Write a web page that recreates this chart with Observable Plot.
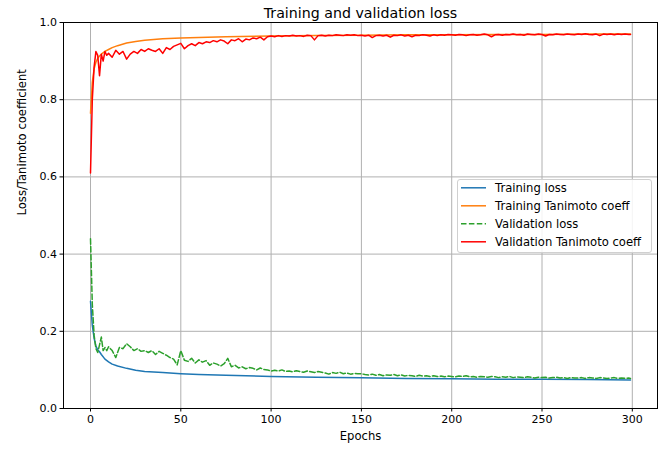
<!DOCTYPE html>
<html><head><meta charset="utf-8">
<script src="https://cdn.jsdelivr.net/npm/d3@7"></script>
<script src="https://cdn.jsdelivr.net/npm/@observablehq/plot@0.6"></script>
<style>
html,body{margin:0;padding:0;background:#fff;}
#wrap{position:relative;width:672px;height:450px;font-family:"DejaVu Sans",sans-serif;}
#legend{position:absolute;left:457px;top:179px;width:195px;height:74px;box-sizing:border-box;border:1px solid #d0d0d0;border-radius:3px;background:rgba(255,255,255,0.85);}
</style>
</head><body>
<div id="wrap"><div id="chart"></div><div id="legend"></div></div>
<script>
const seriesNames = ["Training loss","Training Tanimoto coeff","Validation loss","Validation Tanimoto coeff"];
const seriesColors = ["#1f77b4","#ff7f0e","#2ca02c","#ff0000"];
const xTicks = [0,50,100,150,200,250,300];
const yTicks = [0,0.2,0.4,0.6,0.8,1.0];

// training curves (smooth) read at these epochs
const trainEpochs = [0,1,2,3,4,5,6,8,10,12,15,20,25,30,40,50,60,75,100,125,150,175,200,225,250,275,299];
const trainLoss = [0.278,0.215,0.182,0.162,0.152,0.147,0.140,0.128,0.121,0.115,0.110,0.104,0.099,0.096,0.093,0.090,0.088,0.086,0.083,0.081,0.0795,0.078,0.077,0.076,0.0755,0.075,0.074];
const trainTanimoto = [0.765,0.845,0.880,0.897,0.907,0.913,0.918,0.925,0.930,0.935,0.940,0.947,0.951,0.954,0.958,0.960,0.961,0.963,0.965,0.966,0.967,0.968,0.968,0.969,0.969,0.970,0.970];

// validation curves (noisy): epochs 0..9, then every 2nd epoch to 298, then 299
const valEpochs = d3.range(0,10).concat(d3.range(10,300,2)).concat([299]);
const valLoss = [
0.440,0.270,0.190,0.155,0.145,0.165,0.185,0.150,0.158,0.150,
0.160,0.150,0.132,0.158,0.155,0.168,0.160,0.150,0.155,0.148,
0.150,0.145,0.150,0.140,0.148,0.143,0.138,0.132,0.128,0.113,
0.150,0.125,0.122,0.130,0.118,0.126,0.120,0.124,0.112,0.118,
0.115,0.110,0.116,0.130,0.108,0.112,0.105,0.108,0.103,0.106,
0.104,0.100,0.105,0.101,0.100,0.097,0.099,0.097,0.100,0.096,
0.097,0.095,0.098,0.096,0.094,0.097,0.095,0.093,0.096,0.094,
0.092,0.089,0.093,0.091,0.094,0.090,0.092,0.089,0.091,0.090,
0.090,0.088,0.087,0.089,0.086,0.088,0.085,0.087,0.086,0.088,
0.085,0.087,0.084,0.086,0.085,0.083,0.086,0.084,0.085,0.083,
0.085,0.083,0.084,0.082,0.084,0.083,0.082,0.084,0.083,0.085,
0.082,0.083,0.081,0.083,0.082,0.081,0.083,0.082,0.080,0.082,
0.081,0.083,0.080,0.082,0.081,0.080,0.082,0.081,0.079,0.081,
0.080,0.081,0.079,0.080,0.081,0.079,0.080,0.078,0.080,0.079,
0.079,0.080,0.078,0.080,0.079,0.078,0.080,0.079,0.078,0.079,
0.080,0.078,0.079,0.078,0.079,
0.078];
const valTanimoto = [
0.610,0.800,0.885,0.925,0.915,0.862,0.918,0.900,0.925,0.915,
0.920,0.910,0.928,0.918,0.925,0.905,0.918,0.925,0.920,0.930,
0.925,0.932,0.928,0.925,0.932,0.920,0.935,0.930,0.938,0.942,
0.946,0.932,0.940,0.945,0.940,0.948,0.945,0.950,0.948,0.953,
0.950,0.955,0.952,0.945,0.955,0.953,0.958,0.950,0.957,0.955,
0.960,0.958,0.962,0.955,0.963,0.965,0.963,0.966,0.964,0.966,
0.965,0.967,0.965,0.966,0.964,0.967,0.966,0.955,0.966,0.967,
0.965,0.967,0.966,0.968,0.967,0.966,0.968,0.967,0.968,0.966,
0.967,0.965,0.967,0.961,0.966,0.967,0.965,0.967,0.962,0.967,
0.966,0.968,0.965,0.967,0.963,0.967,0.966,0.968,0.967,0.965,
0.968,0.966,0.968,0.967,0.969,0.968,0.967,0.969,0.968,0.966,
0.968,0.969,0.967,0.968,0.970,0.968,0.963,0.968,0.969,0.967,
0.969,0.968,0.970,0.968,0.969,0.967,0.970,0.969,0.968,0.970,
0.969,0.965,0.969,0.968,0.970,0.969,0.968,0.970,0.969,0.968,
0.970,0.969,0.971,0.969,0.968,0.970,0.966,0.970,0.969,0.970,
0.968,0.970,0.969,0.970,0.969,
0.969];

const toRows = (xs, ys) => xs.map((x, i) => ({epoch: x, value: ys[i]}));
const rTrainLoss = toRows(trainEpochs, trainLoss);
const rTrainTan = toRows(trainEpochs, trainTanimoto);
const rValLoss = toRows(valEpochs, valLoss);
const rValTan = toRows(valEpochs, valTanimoto);

const chart = Plot.plot({
  width: 672, height: 450,
  marginLeft: 63, marginRight: 15, marginTop: 22, marginBottom: 42,
  style: {fontFamily: '"DejaVu Sans", sans-serif', fontSize: "11px", color: "#000", background: "#fff"},
  x: {domain: [-14.95, 313.95]},
  y: {domain: [0, 1]},
  marks: [
    Plot.gridX(xTicks, {stroke: "#b0b0b0", strokeOpacity: 1, strokeWidth: 1}),
    Plot.gridY(yTicks, {stroke: "#b0b0b0", strokeOpacity: 1, strokeWidth: 1}),
    Plot.line(rTrainLoss, {x: "epoch", y: "value", stroke: seriesColors[0], strokeWidth: 1.5}),
    Plot.line(rTrainTan, {x: "epoch", y: "value", stroke: seriesColors[1], strokeWidth: 1.5}),
    Plot.line(rValLoss, {x: "epoch", y: "value", stroke: seriesColors[2], strokeWidth: 1.5, strokeDasharray: "5.5,2.4"}),
    Plot.line(rValTan, {x: "epoch", y: "value", stroke: seriesColors[3], strokeWidth: 1.5}),
    Plot.frame({stroke: "#000", strokeWidth: 1}),
    Plot.axisX(xTicks, {tickSize: 3.5, tickPadding: 3, tickFormat: d => String(d), fontSize: 11, label: null, stroke: "#000"}),
    Plot.axisY(yTicks, {tickSize: 3.5, tickPadding: 3, tickFormat: d3.format(".1f"), fontSize: 11, label: null, stroke: "#000"}),
    Plot.text(["Training and validation loss"], {frameAnchor: "top", dy: -5, lineAnchor: "bottom", fontSize: 14.2, fill: "#000"}),
    Plot.text(["Epochs"], {frameAnchor: "bottom", dy: 31, fontSize: 11.6, fill: "#000"}),
    Plot.text(["Loss/Tanimoto coefficient"], {frameAnchor: "left", dx: -41, rotate: -90, fontSize: 11.6, fill: "#000"})
  ]
});
document.getElementById("chart").appendChild(chart);

// legend
const lg = d3.select("#legend").append("svg").attr("width", 195).attr("height", 74)
  .style("font-family", '"DejaVu Sans", sans-serif').style("font-size", "11.6px");
seriesNames.forEach((name, i) => {
  const cy = 7.8 + i * 18;
  lg.append("line").attr("x1", 3).attr("x2", 28).attr("y1", cy).attr("y2", cy)
    .attr("stroke", seriesColors[i]).attr("stroke-width", 1.5)
    .attr("stroke-dasharray", i === 2 ? "5.5,2.4" : null);
  lg.append("text").attr("x", 37).attr("y", cy).attr("dy", "0.35em").attr("fill", "#000").text(name);
});
</script>
</body></html>
